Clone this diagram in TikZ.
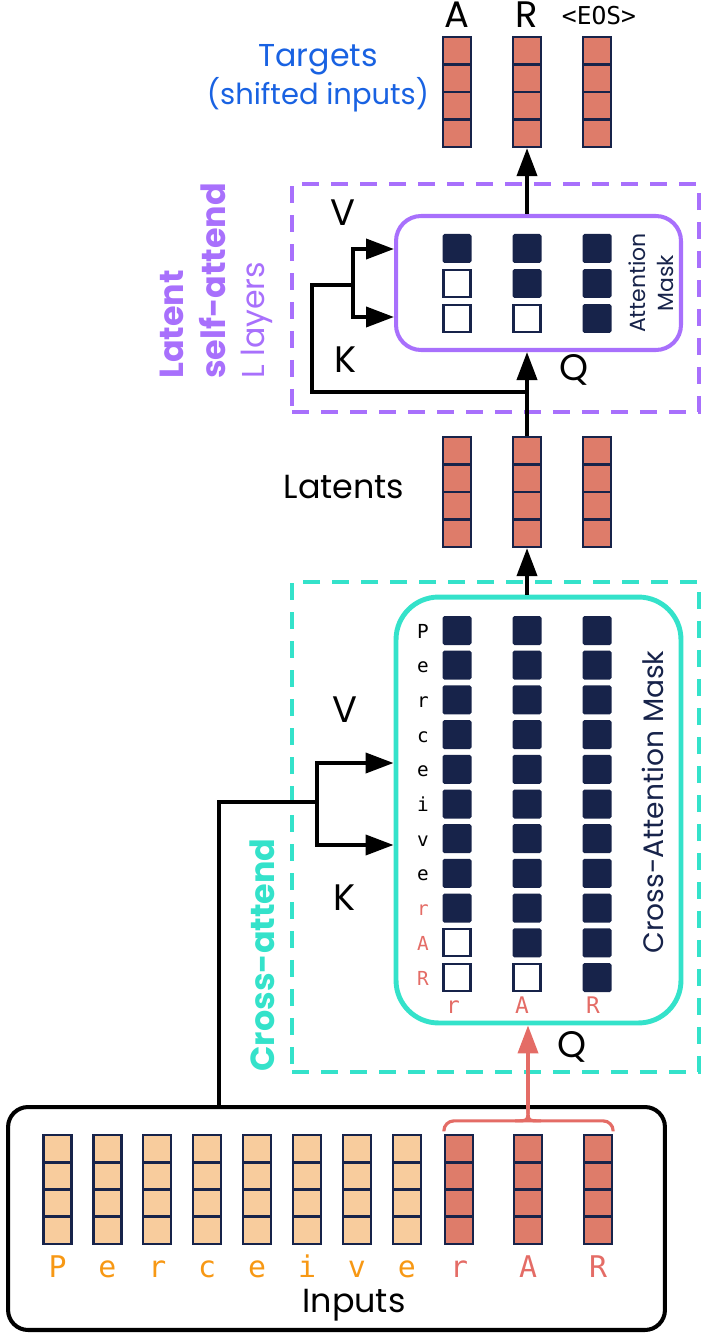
\documentclass[tikz,border=0pt]{standalone}
\usepackage{fontspec}
\setmainfont{Poppins}
\setmonofont{DejaVu Sans Mono}
\usepackage{tikz}
\usetikzlibrary{arrows.meta,positioning,calc}
\definecolor{navy}{RGB}{23,35,74}
\definecolor{salmon}{RGB}{222,124,106}
\definecolor{peach}{RGB}{248,204,157}
\definecolor{lilac}{RGB}{168,112,252}
\definecolor{aqua}{RGB}{52,226,202}
\definecolor{tblue}{RGB}{25,98,226}
\definecolor{amber}{RGB}{247,152,20}
\definecolor{rose}{RGB}{228,108,102}

\begin{document}
\begin{tikzpicture}[x=0.02cm, y=-0.02cm]
\tikzstyle{vec} = [rectangle, draw=navy, line width=1.3pt, minimum width=0.56cm, minimum height=2.2cm, inner sep=0pt,
  path picture={\foreach \k in {1,2,3} {\draw[navy, line width=1.6pt] ($(path picture bounding box.north west)!\k/4!(path picture bounding box.south west)$) -- ++(1cm,0);}}]
\tikzstyle{on} = [rectangle, fill=navy, rounded corners=1pt, minimum size=0.58cm, inner sep=0pt]
\tikzstyle{off} = [rectangle, fill=white, draw=navy, line width=1.2pt, minimum size=0.54cm, inner sep=0pt]
\tikzstyle{dashbox} = [rectangle, line width=2.3pt, dash pattern=on 0.34cm off 0.24cm, inner sep=0pt]
\tikzstyle{maskbox} = [rectangle, inner sep=0pt]
\tikzstyle{link} = [line width=2.2pt]
\tikzstyle{arrow} = [line width=2.2pt, -{Triangle[length=0.56cm, width=0.4cm]}]
\tikzstyle{redarrow} = [line width=2.2pt, draw=rose, -{Triangle[length=0.56cm, width=0.4cm]}]
\tikzstyle{lbl} = [font=\fontsize{19}{22}\selectfont]
\tikzstyle{qkv} = [font=\fontsize{21}{25}\selectfont]
\tikzstyle{rowletter} = [font=\ttfamily\fontsize{11}{13}\selectfont, anchor=base, inner sep=0pt]
\tikzstyle{inletter} = [font=\ttfamily\fontsize{17}{20}\selectfont, anchor=base, inner sep=0pt]

\useasboundingbox (0,0) rectangle (706,1334);

% frames
\node[dashbox, draw=lilac, minimum width=8.14cm, minimum height=4.56cm] (SelfBox) at (495.5,298) {};
\node[dashbox, draw=aqua, minimum width=8.14cm, minimum height=9.8cm] (CrossBox) at (495.5,827) {};
\node[maskbox, draw=lilac, line width=2.3pt, rounded corners=0.5cm, minimum width=5.7cm, minimum height=2.68cm] (SelfMask) at (538.5,283) {};
\node[maskbox, draw=aqua, line width=2.8pt, rounded corners=0.85cm, minimum width=5.7cm, minimum height=8.52cm] (CrossMask) at (538.5,810) {};
\node[maskbox, draw=black, line width=2.3pt, rounded corners=0.4cm, minimum width=13.14cm, minimum height=4.46cm] (InBox) at (336.5,1218.5) {};

% targets and latents
\foreach \x/\n in {457/1, 527/2, 597/3} {
  \node[vec, fill=salmon] (Tgt\n) at (\x,92) {};
  \node[vec, fill=salmon] (Lat\n) at (\x,492) {};
}
\node[qkv, anchor=base] (TgtA) at (457,28) {A};
\node[qkv, anchor=base] (TgtR) at (527,28) {R};
\node[font=\ttfamily\fontsize{14}{16}\selectfont, anchor=base] (TgtEos) at (599,25) {<EOS>};
\node[text=tblue, font=\fontsize{18}{20}\selectfont] (TgtLbl) at (318,60) {Targets};
\node[text=tblue, font=\fontsize{16.5}{20}\selectfont] (TgtSub) at (318,95) {(shifted inputs)};
\node[lbl] (LatLbl) at (344,487) {Latents};

% latent self-attention mask
\foreach \i/\a/\b in {0/on/on, 1/off/on, 2/off/off} {
  \node[\a] (SMa\i) at (457,{248.5+35*\i}) {};
  \node[\b] (SMb\i) at (527,{248.5+35*\i}) {};
  \node[on] (SMc\i) at (597,{248.5+35*\i}) {};
}
\node[rotate=90, align=center, text=navy, font=\fontsize{12.5}{16}\selectfont] (SelfMaskLbl) at (651,283) {Attention\\Mask};

% cross-attention mask
\foreach \i/\l/\t/\a/\b in {0/P/black/on/on, 1/e/black/on/on, 2/r/black/on/on, 3/c/black/on/on, 4/e/black/on/on, 5/i/black/on/on, 6/v/black/on/on, 7/e/black/on/on, 8/r/rose/on/on, 9/A/rose/off/on, 10/R/rose/off/off} {
  \node[\a] (CMa\i) at (457,{630.5+34.7*\i}) {};
  \node[\b] (CMb\i) at (527,{630.5+34.7*\i}) {};
  \node[on] (CMc\i) at (597,{630.5+34.7*\i}) {};
  \node[rowletter, text=\t] (CMl\i) at (423,{638+34.7*\i}) {\l};
}
\node[rowletter, text=rose, font=\ttfamily\fontsize{13}{15}\selectfont] (CMq1) at (453,1013) {r};
\node[rowletter, text=rose, font=\ttfamily\fontsize{13}{15}\selectfont] (CMq2) at (522,1013) {A};
\node[rowletter, text=rose, font=\ttfamily\fontsize{13}{15}\selectfont] (CMq3) at (593,1013) {R};
\node[rotate=90, text=navy, font=\fontsize{16}{19}\selectfont] (CrossMaskLbl) at (653,802) {Cross-Attention Mask};

% inputs
\foreach \c [count=\i] in {P,e,r,c,e,i,v,e} {
  \node[vec, fill=peach, minimum height=2.18cm] (In\i) at ({57.5+49.9*(\i-1)},1189.5) {};
  \node[inletter, text=amber] (InL\i) at ({57.5+49.9*(\i-1)},1277) {\c};
}
\foreach \x/\c/\n in {459/r/1, 528/A/2, 598/R/3} {
  \node[vec, fill=salmon, minimum height=2.18cm] (InR\n) at (\x,1189.5) {};
  \node[inletter, text=rose] (InRL\n) at (\x,1277) {\c};
}
\node[lbl] (InLbl) at (354,1305) {Inputs};

% side labels
\node[rotate=90, anchor=west, text=lilac, font=\bfseries\fontsize{19}{22}\selectfont] (SelfLbl1) at (172,385) {Latent};
\node[rotate=90, anchor=west, text=lilac, font=\bfseries\fontsize{19}{22}\selectfont] (SelfLbl2) at (213,385) {self-attend};
\node[rotate=90, anchor=west, text=lilac, font=\fontsize{18}{22}\selectfont] (SelfLbl3) at (257,385) {L layers};
\node[rotate=90, text=aqua, font=\bfseries\fontsize{19}{22}\selectfont] (CrossLbl) at (262,955) {Cross-attend};

\node[qkv] (SelfV) at (343,213) {V};
\node[qkv] (SelfK) at (346,360) {K};
\node[qkv] (SelfQ) at (574,370) {Q};
\node[qkv] (CrossV) at (345,710) {V};
\node[qkv] (CrossK) at (345,898) {K};
\node[qkv] (CrossQ) at (572,1047) {Q};

% connectors
\draw[arrow] (Lat2.north) -- (Lat2.north |- SelfMask.south);
\draw[arrow] (Tgt2.south |- SelfMask.north) -- (Tgt2.south);
\draw[arrow] (Lat2.south |- CrossMask.north) -- (Lat2.south);

\coordinate (SelfTap) at (527,392);
\coordinate (SelfSplit) at (353,285);
\draw[link] (SelfTap) -| (312,285) -- (SelfSplit);
\draw[arrow] (SelfSplit) |- ([yshift=0.68cm]SelfMask.west);
\draw[arrow] (SelfSplit) |- ([yshift=-0.68cm]SelfMask.west);

\coordinate (CrossSplit) at (317,802);
\draw[link] ([xshift=-2.35cm]InBox.north) |- (CrossSplit);
\draw[arrow] (CrossSplit) |- ([yshift=0.94cm]CrossMask.west);
\draw[arrow] (CrossSplit) |- ([yshift=-0.7cm]CrossMask.west);

\draw[rose, line width=1.8pt, rounded corners=0.2cm] ([yshift=0.05cm]InR1.north west) |- ([yshift=0.26cm]InR2.north) -| ([yshift=0.05cm]InR3.north east);
\draw[rose, line width=1.8pt] ([xshift=-0.26cm, yshift=0.26cm]InR2.north) .. controls ([yshift=0.26cm]InR2.north) .. ([yshift=0.5cm]InR2.north);
\draw[rose, line width=1.8pt] ([xshift=0.26cm, yshift=0.26cm]InR2.north) .. controls ([yshift=0.26cm]InR2.north) .. ([yshift=0.5cm]InR2.north);
\draw[redarrow] ([yshift=0.5cm]InR2.north) -- (InR2.north |- CrossMask.south);
\end{tikzpicture}
\end{document}
